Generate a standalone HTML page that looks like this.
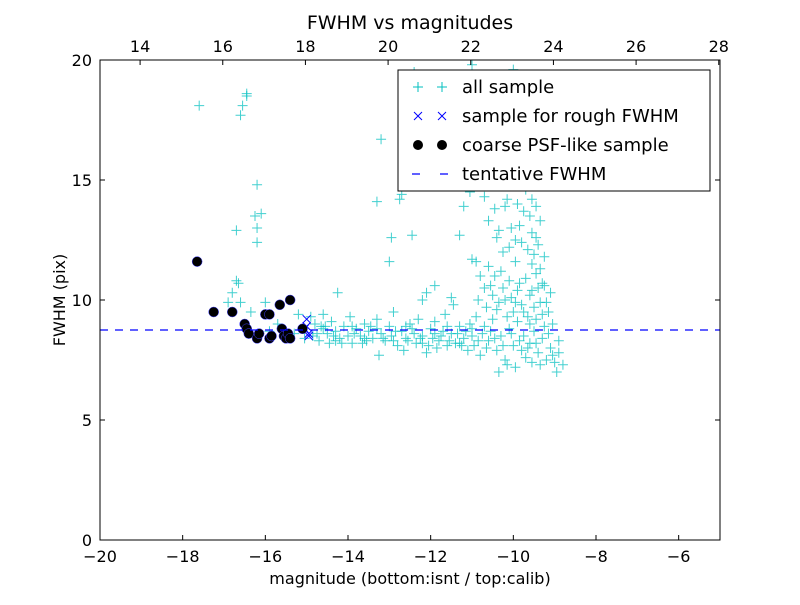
<!DOCTYPE html>
<html><head><meta charset="utf-8"><style>
body{margin:0;background:#fff}
svg text{font-family:"DejaVu Sans","Liberation Sans",sans-serif;fill:#000}
</style></head><body>
<svg id="chart" width="800" height="600">
<rect width="800" height="600" fill="#fff"/>
<g id="plot"></g>
</svg>
<script>
const allSample = [
[-17.6,18.1],[-16.6,17.7],[-16.55,18.1],[-16.45,18.5],[-16.45,18.6],[-16.7,12.9],[-16.7,10.8],[-16.65,10.7],[-16.6,9.9],[-16.9,9.9],[-16.8,10.3],[-16.2,14.8],[-16.25,13.5],[-16.2,13.0],[-16.1,13.6],[-16.2,12.4],[-16.35,9.5],[-16.0,9.9],
[-15.9,8.7],[-15.7,9.0],[-15.3,8.6],[-15.2,9.4],[-15.05,8.4],
[-14.9,9.3],[-14.85,8.5],[-14.8,9.0],[-14.7,8.3],[-14.65,8.9],[-14.6,9.4],[-14.5,8.6],[-14.45,8.2],[-14.4,9.1],[-14.3,8.7],[-14.25,10.3],[-14.2,8.4],[-14.1,8.9],[-14.0,8.5],[-13.95,9.3],[-13.9,8.2],[-13.8,8.8],[-13.7,8.5],[-13.6,9.0],[-13.55,8.3],[-13.5,8.7],[-13.4,8.4],[-13.3,9.2],[-13.25,7.7],[-13.2,8.6],[-13.1,8.3],[-13.0,8.9],[-12.95,8.5],[-12.9,9.5],[-12.8,8.1],[-12.7,8.7],[-12.65,7.9],[-12.6,8.4],[-12.5,9.0],[-12.4,8.6],[-12.35,8.2],[-12.3,9.2],[-12.2,8.5],[-12.1,7.8],[-12.0,8.8],[-11.95,8.4],[-11.9,9.1],[-11.8,8.3],[-11.7,8.7],[-11.65,9.4],[-11.6,8.1],[-11.5,8.6],[-11.45,9.8],[-11.4,8.2],[-11.3,8.9],[-11.2,8.4],[-11.1,7.9],[-11.05,9.0],[-11.0,8.5],[-10.95,8.1],[-10.9,9.3],[-10.8,7.7],[-10.75,8.6],
[-14.6,8.8],[-14.3,8.3],[-13.9,8.9],[-13.6,8.4],[-13.3,8.8],[-12.9,8.3],[-12.6,8.9],[-12.2,8.2],[-11.9,8.6],[-11.6,8.9],[-11.3,8.2],[-11.0,8.8],
[-14.75,8.6],[-14.55,8.9],[-14.35,8.5],[-14.15,8.2],[-13.85,8.6],[-13.65,8.2],[-13.45,8.9],[-13.15,8.4],[-12.85,8.7],[-12.55,8.3],[-12.45,8.8],[-12.25,8.4],[-12.05,8.1],[-11.85,8.0],[-11.75,8.5],[-11.55,8.3],[-11.35,8.6],[-11.25,8.1],[-11.15,8.7],[-10.85,8.3],[-10.65,8.0],[-10.55,8.7],[-10.45,8.4],[-10.25,8.1],[-10.05,8.6],[-9.85,8.3],[-9.65,8.0],[-9.45,8.2],[-9.15,8.6],[-9.05,7.7],
[-10.85,10.0],[-10.65,9.7],[-10.55,10.6],[-10.45,11.0],[-10.35,9.9],[-10.25,10.5],[-10.15,9.3],[-10.05,10.1],[-9.95,9.9],[-9.85,10.7],[-9.75,9.5],[-9.55,10.4],[-9.45,9.2],[-9.35,9.9],[-9.25,10.6],[-9.15,9.5],
[-10.45,13.8],[-10.35,12.9],[-10.25,12.0],[-10.15,14.2],[-10.05,13.0],[-9.95,12.5],[-9.75,13.7],[-9.65,12.1],[-9.55,11.5],[-9.45,12.6],[-9.35,13.3],[-9.45,11.1],[-9.25,11.8],[-10.55,16.4],[-10.25,15.9],[-9.95,16.9],[-9.85,15.5],[-9.65,14.9],[-9.55,14.2],[-10.15,17.6],[-10.45,18.9],
[-13.2,16.7],[-13.3,14.1],[-12.95,12.6],[-13.0,11.6],[-12.75,14.2],[-12.7,14.4],[-12.45,12.7],[-12.4,19.5],[-12.1,10.3],[-11.9,10.6],[-11.5,10.1],[-12.2,10.0],[-11.9,17.6],[-11.6,16.9],[-11.35,16.0],[-11.1,15.9],[-11.2,13.9],[-11.05,14.5],[-11.3,12.7],[-11.0,11.7],[-10.9,11.6],
[-11.0,19.8],[-10.8,17.5],[-10.7,19.3],[-10.6,18.3],[-10.4,17.8],[-10.3,18.6],[-10.2,17.0],[-10.1,16.4],[-10.0,19.6],[-9.9,18.0],[-9.8,17.2],[-9.7,16.3],[-9.6,15.8],
[-10.8,15.2],[-10.7,14.3],[-10.6,13.3],[-10.5,15.6],[-10.4,12.6],[-10.3,14.8],[-10.2,13.9],[-10.1,12.2],[-10.0,15.1],[-9.9,14.0],[-9.85,13.1],[-9.8,12.4],[-9.7,14.6],[-9.6,13.5],[-9.55,12.8],[-9.5,11.9],[-9.45,13.9],[-9.4,12.3],[-9.35,11.3],[-9.3,10.7],
[-10.8,11.0],[-10.7,10.5],[-10.6,11.4],[-10.5,10.2],[-10.4,9.6],[-10.3,11.2],[-10.2,10.0],[-10.1,10.8],[-10.0,9.5],[-9.95,11.6],[-9.9,10.4],[-9.8,9.8],[-9.7,10.9],[-9.65,9.3],[-9.6,10.2],[-9.5,9.7],[-9.4,10.5],[-9.3,9.4],[-9.2,9.9],[-9.1,10.3],[-9.05,9.0],
[-10.7,8.9],[-10.6,8.3],[-10.5,9.2],[-10.4,7.9],[-10.3,8.5],[-10.2,7.5],[-10.1,8.8],[-10.0,8.1],[-9.95,7.2],[-9.9,9.1],[-9.8,7.9],[-9.75,8.5],[-9.7,7.6],[-9.6,8.2],[-9.55,7.4],[-9.5,8.7],[-9.4,7.8],[-9.35,7.3],[-9.3,8.4],[-9.2,7.5],[-9.1,8.0],[-9.0,7.4],[-8.95,7.0],[-8.9,7.8],[-8.8,7.3],[-10.35,7.0],[-10.15,7.3],[-9.6,9.0],[-9.25,8.9],[-8.9,8.3]
];
const roughSample = [[-15.0,9.2],[-15.05,8.8],[-15.0,8.9],[-14.95,8.6],[-14.95,8.5]];
const psfSample = [[-17.65,11.6],[-17.25,9.5],[-16.8,9.5],[-16.5,9.0],[-16.45,8.8],[-16.4,8.6],[-16.2,8.4],[-16.15,8.6],[-16.0,9.4],[-15.9,9.4],[-15.9,8.4],[-15.85,8.5],[-15.65,9.8],[-15.6,8.8],[-15.55,8.5],[-15.5,8.4],[-15.45,8.6],[-15.4,10.0],[-15.4,8.4],[-15.1,8.8]];
const tentativeFWHM = 8.75;
const xTicks = [-20,-18,-16,-14,-12,-10,-8,-6];
const topTicks = [14,16,18,20,22,24,26,28];
const yTicks = [0,5,10,15,20];
const topOffset = 33.03;

const NS='http://www.w3.org/2000/svg';
const L=100,R=720,T=60,B=540;
const xs=v=>L+(v+20)/15*(R-L);
const ys=v=>B-v/20*(B-T);
const g=document.getElementById('plot');
function mk(tag,attrs,parent){const e=document.createElementNS(NS,tag);for(const k in attrs)e.setAttribute(k,attrs[k]);(parent||g).appendChild(e);return e;}

const clip=mk('clipPath',{id:'cp'});mk('rect',{x:L,y:T,width:R-L,height:B-T},clip);
const pts=mk('g',{'clip-path':'url(#cp)'});


allSample.forEach(p=>{const x=xs(p[0]),y=ys(p[1]);
 const e=mk('path',{d:`M${x-5} ${y}H${x+5}M${x} ${y-5}V${y+5}`,stroke:'#00bfbf','stroke-width':1,'stroke-opacity':0.75},pts);
 
 });
roughSample.forEach(p=>{const x=xs(p[0]),y=ys(p[1]);
 const e=mk('path',{d:`M${x-4} ${y-4}L${x+4} ${y+4}M${x-4} ${y+4}L${x+4} ${y-4}`,stroke:'#0000ff','stroke-width':1},pts);
 
 });
psfSample.forEach(p=>{const e=mk('circle',{cx:xs(p[0]),cy:ys(p[1]),r:5,fill:'#000',stroke:'#4040ff','stroke-width':0.5},pts);
 
 });
const tl=mk('line',{x1:L,x2:R,y1:ys(tentativeFWHM),y2:ys(tentativeFWHM),stroke:'#0000ff','stroke-width':1.3,'stroke-dasharray':'8 7'},pts);



const frame=mk('rect',{x:L,y:T,width:R-L,height:B-T,fill:'none',stroke:'#000','stroke-width':1});



xTicks.forEach(v=>{const x=xs(v);
 mk('line',{x1:x,x2:x,y1:B,y2:B-5,stroke:'#000'});
 const t=mk('text',{x:x,y:B+22,'text-anchor':'middle','font-size':16});t.textContent=(v<0?'\u2212':'')+Math.abs(v);
 
 });
topTicks.forEach(v=>{const x=xs(v-topOffset);
 mk('line',{x1:x,x2:x,y1:T,y2:T+5,stroke:'#000'});
 const t=mk('text',{x:x,y:T-8,'text-anchor':'middle','font-size':16});t.textContent=v;
 
 });
yTicks.forEach(v=>{const y=ys(v);
 mk('line',{x1:L,x2:L+5,y1:y,y2:y,stroke:'#000'});
 mk('line',{x1:R,x2:R-5,y1:y,y2:y,stroke:'#000'});
 const t=mk('text',{x:L-8,y:y+6,'text-anchor':'end','font-size':16});t.textContent=v;
 
 });

let t=mk('text',{x:410,y:29,'text-anchor':'middle','font-size':19});t.textContent='FWHM vs magnitudes';


t=mk('text',{x:410,y:584,'text-anchor':'middle','font-size':16});t.textContent='magnitude (bottom:isnt / top:calib)';


t=mk('text',{x:65,y:300,'text-anchor':'middle','font-size':16,transform:'rotate(-90 65 300)'});t.textContent='FWHM (pix)';



const lg=mk('g',{});


mk('rect',{x:398,y:70,width:312,height:121,fill:'#fff',stroke:'#000','stroke-width':1},lg);
const entries=['all sample','sample for rough FWHM','coarse PSF-like sample','tentative FWHM'];
entries.forEach((lab,i)=>{const y=87+i*29;
 const eg=mk('g',{},lg);
 
 
 [418,442].forEach(x=>{
  if(i==0)mk('path',{d:`M${x-5} ${y}H${x+5}M${x} ${y-5}V${y+5}`,stroke:'#00bfbf'},eg);
  if(i==1)mk('path',{d:`M${x-4} ${y-4}L${x+4} ${y+4}M${x-4} ${y+4}L${x+4} ${y-4}`,stroke:'#0000ff'},eg);
  if(i==2)mk('circle',{cx:x,cy:y,r:5,fill:'#000'},eg);
 });
 if(i==3)mk('line',{x1:412,x2:448,y1:y,y2:y,stroke:'#0000ff','stroke-width':1.3,'stroke-dasharray':'8 20'},eg);
 const tx=mk('text',{x:462,y:y+6,'font-size':18},eg);tx.textContent=lab;
});
</script>
</body></html>
